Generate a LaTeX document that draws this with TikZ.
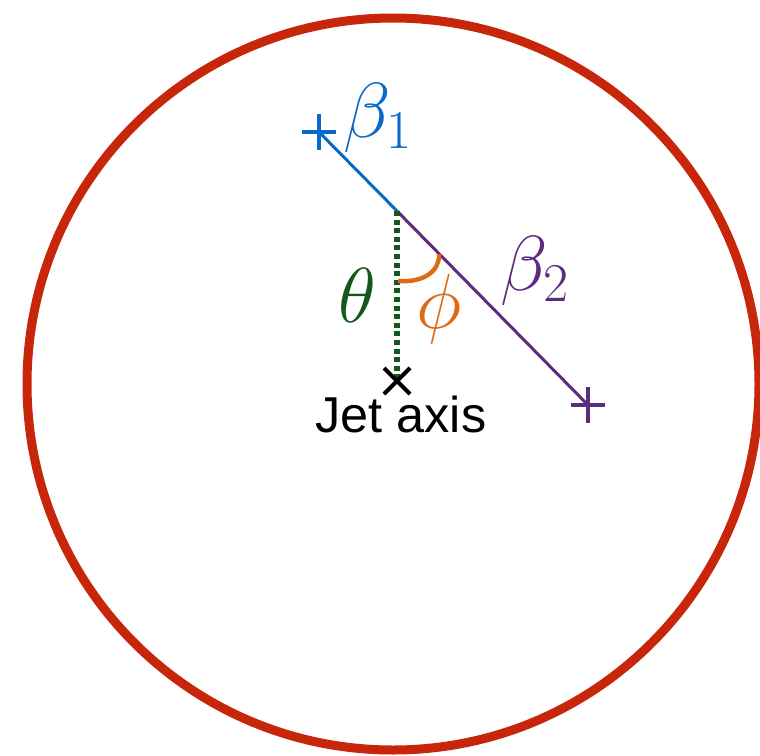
\RequirePackage{fix-cm}
\documentclass[tikz,border=0pt]{standalone}
\usepackage{fontspec}
\newfontfamily\axisfont{Liberation Sans}
\definecolor{Rim}{RGB}{200,38,10}
\definecolor{Blue}{RGB}{10,104,200}
\definecolor{Purple}{RGB}{90,44,130}
\definecolor{Forest}{RGB}{18,88,28}
\definecolor{Amber}{RGB}{224,106,20}
\tikzset{
  greek/.style={inner sep=0,font=\fontsize{39}{39}\selectfont},
  tickmark/.style={line width=2pt}
}

\begin{document}
\begin{tikzpicture}[x=.5pt,y=-.5pt]
        \useasboundingbox(0,0)rectangle(760,755);
        \draw[line width=4.5pt,Rim](393,384)circle[radius=366];
        \coordinate(split)at(397,211);
        \coordinate(end1)at(319,132);
        \coordinate(end2)at(588,405);
        \coordinate(axis)at(397,381);
        \draw[line width=1.5pt,Blue](end1)--(split);
        \draw[line width=1.5pt,Purple](split)--(end2);
        \draw[line width=2.9pt,Forest,dash pattern=on 2.5pt off 1.8pt](split)--(axis);
        \draw[line width=2.2pt,Amber](398,281)..controls(425,283)and(440,270)..(439,254);
        % markers at the ends and on the axis
        \draw[tickmark,Blue](end1)+(-17,0)--+(17,0)+(0,-18)--+(0,18);
        \draw[tickmark,Purple](end2)+(-17,0)--+(17,0)+(0,-18)--+(0,18);
        \draw[tickmark,black](axis)+(-13,-13)--+(13,13)+(-13,13)--+(13,-13);
        \node[greek,Blue,anchor=base west](b1)at(343,137){$\beta_1$};
        \node[greek,Purple,anchor=base west](b2)at(500,290){$\beta_2$};
        \node[greek,Forest,anchor=base](th)at(357,322){$\theta$};
        \node[greek,Amber,anchor=base](ph)at(439,328){$\phi$};
        \node[anchor=base,inner sep=0,font=\axisfont\fontsize{25.2}{25.2}\selectfont](jet)at(401,432){Jet axis};
      \end{tikzpicture}
\end{document}
